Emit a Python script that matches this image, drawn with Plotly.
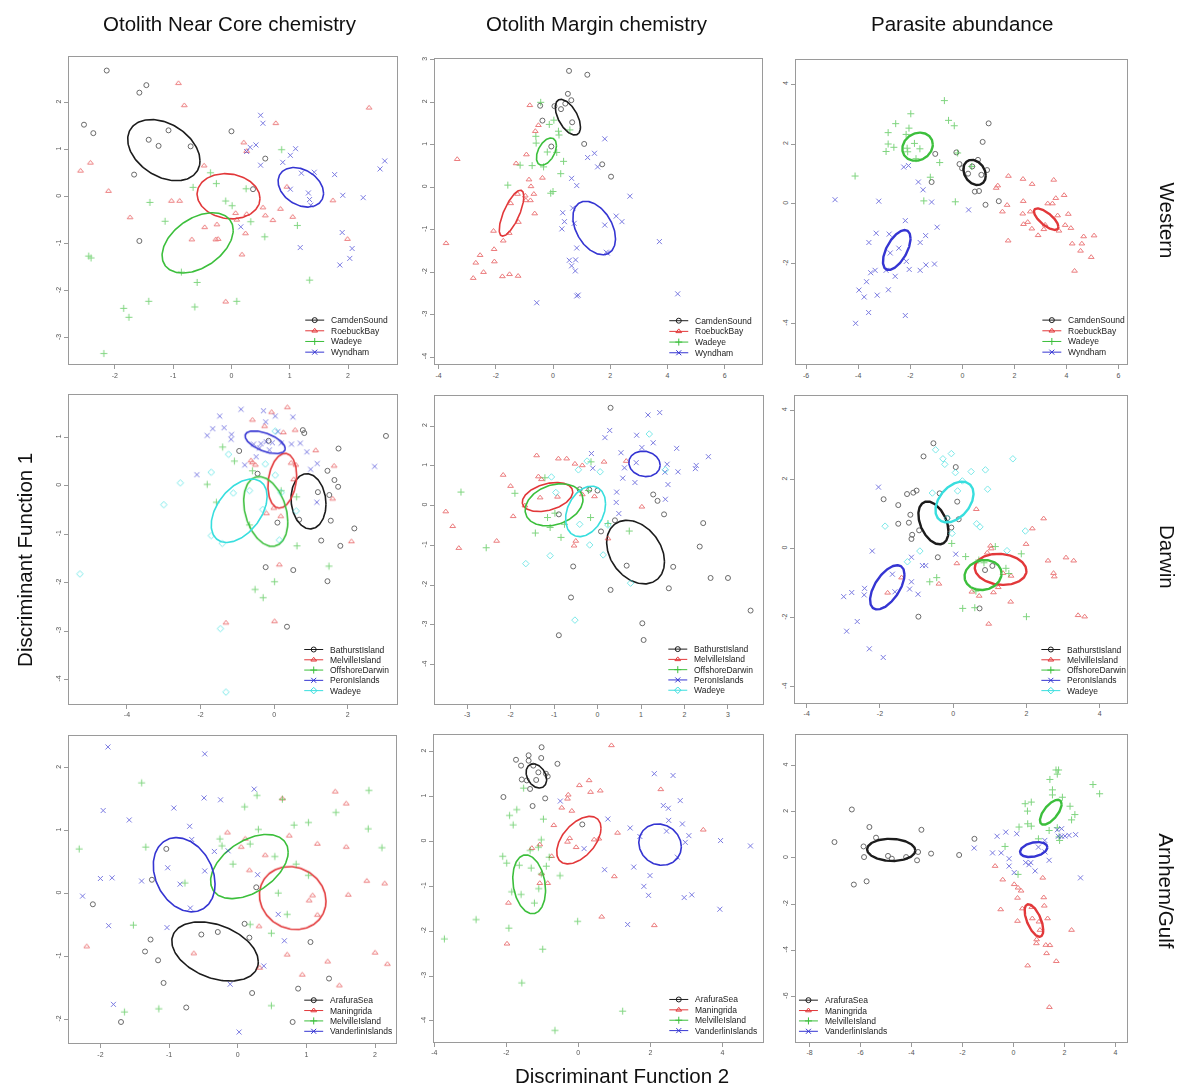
import numpy as np
import plotly.graph_objects as go

W, H = 1183, 1086

COLUMN_TITLES = ["Otolith Near Core chemistry", "Otolith Margin chemistry", "Parasite abundance"]
ROW_TITLES = ["Western", "Darwin", "Arnhem/Gulf"]
Y_TITLE = "Discriminant Function 1"
X_TITLE = "Discriminant Function 2"

# ---------------------------------------------------------------- Western
west_core = {
    "CamdenSound": ([-2.14, -1.46, -1.58, -2.53, -2.37, -1.08, -1.42, -1.25, -0.70, -1.67, 0.0, 0.58, 0.37, -1.58],
                    [2.68, 2.37, 2.21, 1.53, 1.35, 1.41, 1.21, 1.08, 1.07, 0.47, 1.39, 0.81, 0.16, -0.94]),
    "RoebuckBay": ([-0.91, -0.81, -2.59, -2.42, -2.11, -1.74, -1.03, -0.89, -0.47, 0.21, 0.76, 0.26, 2.36, -0.46, -0.25, -0.68,
                    -0.27, -0.23, 0.07, 0.09, 0.26, 0.24, 0.18, 0.54, 0.58, 0.71, 0.84, 1.05, 0.95, 1.74, 1.99, -0.10],
                   [2.41, 1.94, 0.55, 0.72, 0.12, -0.44, -0.09, -0.09, 0.66, 1.15, 1.56, 0.97, 1.89, -0.65, -0.59, -0.91,
                    -0.91, -0.90, -0.35, -0.49, -0.37, -0.78, -1.23, -0.23, -0.40, -0.50, -0.26, -0.43, 0.21, -0.08, -0.90, -2.23]),
    "Wadeye": ([-0.36, -0.66, -0.26, 0.25, -0.10, 0.01, -1.40, -1.14, 0.33, 0.57, 0.86, 1.13, -2.45, -2.41, -0.86, -0.59,
                -1.42, -1.85, -1.76, -0.63, 0.09, 1.34, -2.19],
               [0.51, 0.20, 0.28, 0.17, -0.09, -0.19, -0.12, -0.52, -0.53, -0.85, 1.00, -0.61, -1.26, -1.30, -1.60, -1.82,
                -2.22, -2.37, -2.56, -2.34, -2.22, -1.77, -3.33]),
    "Wyndham": ([0.50, 0.54, 0.42, 0.32, 0.26, 0.50, 0.88, 1.01, 1.10, 1.20, 1.42, 1.01, 1.32, 1.34, 1.36, 1.77, 1.91, 2.26,
                 2.55, 2.63, 0.16, 1.18, 1.90, 2.07, 2.03, 1.86],
                [1.73, 1.56, 1.10, 1.05, 0.96, 0.67, 0.73, 0.88, 1.02, 0.50, 0.52, 0.16, 0.08, -0.06, -0.18, 0.47, 0.03, -0.02,
                 0.59, 0.76, -0.64, -1.08, -0.76, -1.10, -1.31, -1.45]),
}
# ellipse: centre x, centre y, sd x, sd y, correlation
west_core_ell = {
    "CamdenSound": (-1.16, 0.99, 0.62, 0.65, -0.35),
    "RoebuckBay": (-0.05, 0.01, 0.54, 0.48, -0.10),
    "Wadeye": (-0.58, -0.98, 0.61, 0.64, 0.42),
    "Wyndham": (1.19, 0.20, 0.39, 0.42, -0.30),
}

west_margin = {
    "CamdenSound": ([0.56, 1.20, 0.52, 0.64, 0.43, 0.05, -0.45, 0.28, -0.37, 0.67, 1.09, -0.06, 1.72, 2.03],
                    [2.74, 2.65, 2.20, 2.05, 1.97, 1.91, 1.92, 1.84, 1.57, 1.53, 1.02, 0.96, 0.54, 0.25]),
    "RoebuckBay": ([-0.81, -0.51, -0.62, -3.35, -0.93, -1.29, -0.37, -0.84, -0.77, -0.67, -0.97, -0.95, -0.79, -1.24, -1.48,
                    -0.64, -1.21, -1.53, -2.08, -3.74, -1.74, -2.06, -2.05, -2.55, -2.70, -2.43, -2.79, -1.77, -1.52, -1.22],
                   [1.93, 1.46, 1.32, 0.66, 0.77, 0.56, 0.22, 0.18, 0.02, -0.16, -0.20, -0.31, -0.31, -0.16, -0.38,
                    -0.62, -0.82, -1.08, -1.03, -1.32, -1.26, -1.46, -1.75, -1.60, -1.78, -2.00, -2.14, -2.10, -2.05, -2.09]),
    "Wadeye": ([-0.43, -0.13, 0.03, 0.19, 0.59, -0.60, -0.59, -0.20, 0.13, -0.33, -0.73, -1.15, 0.37, 0.27, -1.58, 0.0, -0.08, 0.21],
               [2.00, 1.48, 1.58, 1.32, 1.35, 1.20, 1.04, 0.83, 0.82, 0.48, 0.51, 0.52, 0.61, 0.32, 0.05, -0.10, -0.14, 1.23]),
    "Wyndham": ([1.81, 1.45, 1.21, 1.56, 0.65, 0.83, 2.69, 0.69, 0.34, 0.40, 0.74, 0.31, 1.81, 2.21, 2.41, 0.83, 1.86, 1.90,
                 3.72, 0.57, 0.65, 0.79, 0.78, 0.88, 0.83, -0.57, 4.36],
                [1.14, 0.80, 0.70, 0.48, 0.21, 0.04, -0.21, -0.49, -0.60, -0.81, -0.85, -0.98, -0.89, -0.68, -0.81, -1.43, -1.53, -1.55,
                 -1.28, -1.72, -1.85, -1.71, -1.97, -2.54, -2.56, -2.72, -2.51]),
}
west_margin_ell = {
    "CamdenSound": (0.52, 1.65, 0.44, 0.42, -0.55),
    "RoebuckBay": (-1.45, -0.61, 0.43, 0.54, 0.72),
    "Wadeye": (-0.23, 0.84, 0.35, 0.32, 0.45),
    "Wyndham": (1.44, -0.96, 0.745, 0.63, -0.40),
}

west_parasite = {
    "CamdenSound": ([1.01, 0.78, -1.04, -0.23, -0.11, -0.01, 0.22, 0.60, 0.48, 0.64, 0.95, 0.73, -1.18, 1.40, 0.89, 0.38],
                    [2.69, 2.07, 1.67, 1.72, 1.33, 1.19, 1.01, 1.47, 0.41, 0.43, 1.13, 0.97, 0.73, 0.09, -0.03, 1.25]),
    "RoebuckBay": ([1.77, 1.36, 1.30, 1.54, 1.72, 2.33, 2.68, 3.51, 2.34, 3.28, 3.59, 3.91, 2.32, 2.35, 2.51, 2.61, 2.67,
                    2.91, 3.13, 3.18, 3.66, 3.71, 3.95, 4.07, 4.17, 4.22, 4.59, 4.66, 5.06, 4.54, 4.95, 4.31, 1.76, 3.46],
                   [0.93, 0.61, 0.53, -0.26, -0.04, 0.83, 0.66, 0.80, 0.09, 0.01, 0.19, 0.29, -0.33, -0.68, -0.61, -0.26, -0.83,
                    -1.05, -0.85, -0.70, -0.39, -0.90, -0.71, -0.34, -0.81, -1.33, -1.33, -1.09, -1.06, -1.57, -1.78, -2.24, -1.23, 0.01]),
    "Wadeye": ([-0.69, -1.98, -0.53, -0.31, -2.56, -2.05, -2.85, -2.85, -2.63, -2.93, -2.16, -1.84, -1.63, -2.10, -1.78,
                -2.12, -0.87, -1.23, -4.12, -1.48, -0.27, -0.18, 0.36],
               [3.45, 3.01, 2.79, 2.61, 2.68, 2.53, 2.38, 2.00, 1.89, 1.75, 2.32, 2.02, 1.84, 1.74, 1.51,
                1.86, 1.38, 0.89, 0.93, 0.10, 0.07, 1.70, 1.25]),
    "Wyndham": ([-4.89, -3.21, -2.25, -2.07, -1.69, -1.51, -1.18, 0.24, -2.19, -0.97, -3.31, -2.81, -1.41, -3.59, -1.62, -2.44,
                 -2.77, -2.15, -1.40, -1.07, -2.04, -1.62, -3.35, -3.52, -2.93, -2.58, -3.68, -3.97, -3.27, -3.77, -2.84,
                 -3.60, -2.19, -4.10],
                [0.14, 0.09, 1.23, 1.28, 0.73, 0.47, 0.06, -0.20, -0.56, -0.78, -0.98, -1.01, -1.06, -1.29, -1.29, -1.48,
                 -1.64, -1.92, -2.04, -2.01, -2.19, -2.22, -2.22, -2.30, -2.22, -2.42, -2.60, -2.88, -3.05, -3.11, -2.87,
                 -3.63, -3.73, -3.99]),
}
west_parasite_ell = {
    "CamdenSound": (0.47, 1.05, 0.43, 0.42, -0.25),
    "RoebuckBay": (3.22, -0.51, 0.47, 0.36, -0.72),
    "Wadeye": (-1.72, 1.91, 0.585, 0.47, 0.15),
    "Wyndham": (-2.52, -1.54, 0.53, 0.665, 0.58),
}

# ---------------------------------------------------------------- Darwin
darwin_core = {
    "BathurstIsland": ([0.78, 0.82, 3.04, 1.75, -0.95, 1.45, 1.64, 1.74, 1.19, 1.50, -0.45, 0.09, 0.68, 1.54, 2.18, 1.28,
                        1.80, -0.23, 0.52, 1.45, 0.35, -0.15],
                       [1.15, 1.09, 1.03, 0.77, 0.72, 0.31, 0.12, -0.02, -0.13, -0.19, 0.25, -0.76, -0.70, -0.72, -0.88, -1.13,
                        -1.24, -1.68, -1.74, -1.97, -2.91, 0.93]),
    "MelvilleIsland": ([0.36, -0.07, -0.59, -0.26, 0.57, 0.25, 1.13, -0.63, -0.59, -0.51, 0.46, 0.59, 1.63, 0.53, 1.59,
                        -0.21, 0.18, -0.01, 2.10, 0.14, -1.31, 0.01],
                       [1.62, 1.52, 1.36, 1.23, 1.15, 1.10, 0.73, 0.52, 0.48, 0.43, 0.47, 0.43, 0.41, 0.13, -0.27,
                        -0.57, -0.63, -0.46, -1.15, -1.63, -2.83, -2.80]),
    "OffshoreDarwin": ([-1.40, -1.08, -1.82, -1.57, -0.67, 0.61, 0.62, 1.49, 0.01, -0.52, -0.30, 0.19, -0.59],
                       [0.80, 0.51, 0.03, -0.34, -0.81, -0.23, -1.24, -1.66, -1.98, -2.14, -2.31, -0.10, 0.31]),
    "PeronIslands": ([-0.90, -1.48, -1.67, -1.36, -1.82, -1.16, -0.29, -0.23, 0.03, 0.51, 0.10, -0.36, -0.22, -0.05, -0.56,
                      -0.40, -0.13, 0.19, 0.47, 0.71, 0.89, 1.17, -1.17, -0.80, -0.49, -2.10, 0.99, 1.16, 2.73],
                     [1.58, 1.44, 1.18, 1.20, 1.04, 1.06, 1.55, 1.32, 1.44, 1.42, 1.12, 0.87, 0.91, 0.89, 0.86,
                      0.78, 0.74, 0.88, 0.86, 0.88, 0.70, 0.46, 0.96, 0.43, 0.60, 0.23, 0.34, -0.34, 0.40]),
    "Wadeye": ([-3.00, -2.55, -1.71, -1.24, -1.11, -0.67, -0.31, 0.03, -0.24, 0.19, 0.60, -1.71, -1.41, 0.14, -5.28, -1.46,
                -1.31, 0.03],
               [-0.39, 0.06, 0.28, 0.65, -0.15, -0.10, -0.49, 0.22, 0.45, -0.14, -0.52, -1.03, -1.19, -1.12, -1.82, -2.95,
                -4.26, 1.13]),
}
darwin_core_ell = {
    "BathurstIsland": (0.935, -0.32, 0.475, 0.57, -0.10),
    "MelvilleIsland": (0.22, 0.105, 0.39, 0.565, 0.20),
    "OffshoreDarwin": (-0.23, -0.53, 0.60, 0.72, -0.30),
    "PeronIslands": (-0.245, 0.90, 0.545, 0.235, -0.55),
    "Wadeye": (-0.95, -0.515, 0.76, 0.655, 0.45),
}

darwin_margin = {
    "BathurstIsland": ([0.30, -0.19, 0.0, 1.28, 1.38, 1.53, 0.40, 0.08, -0.89, 2.43, 2.35, -0.56, 0.67, 1.74, 2.60, 3.00,
                        0.30, 1.64, -0.61, 3.52, 1.03, 1.06, -0.89, -0.41],
                       [2.46, 0.40, 0.38, 0.28, 0.12, -0.22, -0.37, -0.65, -0.22, -0.44, -1.03, -1.53, -1.51, -1.54, -1.82, -1.82,
                        -2.12, -2.08, -2.31, -2.64, -2.96, -3.38, -3.26, 0.41]),
    "MelvilleIsland": ([-1.40, -0.90, -0.71, -0.52, -0.35, 0.15, 0.66, -2.17, -2.00, -1.36, -1.29, -1.32, -0.92, -0.35, -0.07,
                        -3.49, -3.33, -1.94, -3.19, -2.32, -0.54, -0.50, 0.24, 1.02, -1.67],
                       [1.26, 1.18, 1.18, 1.05, 1.01, 1.10, 1.12, 0.77, 0.49, 0.73, 0.66, 0.20, 0.22, 0.28, 0.23,
                        -0.15, -0.52, -0.27, -1.07, -0.89, -1.01, -0.89, -0.83, -0.03, 0.0]),
    "OffshoreDarwin": ([-3.14, -2.56, -1.90, -1.43, -1.15, -1.09, -0.84, -1.21, -0.98, -0.15, -0.16, 0.24, 0.73, -0.21, -0.76],
                       [0.34, -1.06, 0.31, -0.69, -0.30, -0.55, -0.80, 0.70, -0.19, 1.10, -0.30, -0.45, -0.64, 0.38, -0.47]),
    "PeronIslands": ([0.28, 0.17, 1.16, 1.43, 0.90, 1.28, 1.02, 0.54, 1.82, 2.55, -0.14, -0.11, 0.62, 0.89, 1.60, 1.85, 2.27,
                      2.25, 0.58, 0.86, 1.62, 1.55, 0.44, 0.43, 0.49, 1.56],
                     [1.89, 1.71, 2.28, 2.34, 1.77, 1.58, 1.46, 1.33, 1.44, 1.23, 1.31, 0.94, 0.95, 1.08, 1.04, 0.85, 1.01,
                      0.93, 0.69, 0.58, 0.53, 0.84, 0.34, 0.08, -0.20, 0.16]),
    "Wadeye": ([1.19, -0.44, -0.24, 0.06, -1.06, 1.56, -0.96, -0.41, -0.18, 0.24, 0.13, -1.09, -1.65, -0.52, 0.76],
               [1.80, 0.90, 1.12, 0.85, 0.72, 0.90, 0.33, -0.47, -0.99, -0.49, -1.24, -1.26, -1.46, -2.88, -1.95]),
}
darwin_margin_ell = {
    "BathurstIsland": (0.875, -1.17, 0.665, 0.80, -0.30),
    "MelvilleIsland": (-1.15, 0.215, 0.58, 0.365, 0.35),
    "OffshoreDarwin": (-1.00, 0.02, 0.665, 0.53, 0.25),
    "PeronIslands": (1.08, 1.05, 0.36, 0.32, -0.10),
    "Wadeye": (-0.275, -0.145, 0.46, 0.635, 0.30),
}

darwin_parasite = {
    "BathurstIsland": ([-0.54, -0.81, 0.07, -1.90, -1.50, -1.26, -1.09, -1.00, -1.17, -1.21, -1.50, -1.12, -1.14, -0.93,
                        0.11, -0.16, -0.05, -0.42, 0.15, -0.95, 0.87, 1.07, 0.72, -0.37],
                       [3.05, 2.67, 2.36, 1.43, 1.26, 1.58, 1.62, 1.68, 0.98, 0.75, 0.72, 0.40, 0.28, 0.53,
                        1.36, 0.88, 0.61, -0.25, 0.85, -1.97, -0.62, -0.50, -1.73, 1.60]),
    "MelvilleIsland": ([0.63, 2.47, 2.16, 1.99, 1.02, 1.04, 0.93, 0.10, -0.39, -1.41, -1.79, 0.51, 0.71, 1.10, 1.23, 1.58,
                        1.36, 1.57, 0.97, 2.59, 2.74, 2.76, 3.08, 3.29, 3.41, 3.59],
                       [1.14, 0.87, 0.58, 0.13, 0.08, 0.0, -0.12, -0.43, -1.02, -0.84, -1.28, -1.25, -1.37, -1.27, -1.12, -0.79,
                        -0.71, -1.54, -2.18, -0.35, -0.71, -0.81, -0.26, -0.35, -1.93, -1.97]),
    "OffshoreDarwin": ([-0.04, 0.34, 1.15, 1.86, 1.44, 0.84, 0.70, -0.45, -0.64, 0.26, 0.59, 0.62, 2.00, 1.52],
                       [0.15, -0.23, 0.06, -0.15, -0.57, -0.41, -0.33, -0.84, -0.96, -1.73, -1.71, -1.23, -1.97, -0.72]),
    "PeronIslands": ([-2.04, -2.21, -1.14, 0.07, -0.84, -1.66, -1.14, -1.19, -2.42, -2.77, -2.43, -2.99, -1.59, -0.96,
                      -2.62, -2.91, -2.29, -1.91, -0.75],
                     [1.78, -0.07, -0.25, -0.16, -0.49, -0.74, -0.96, -1.17, -1.15, -1.27, -1.34, -1.39, -1.25, -1.32,
                      -2.11, -2.39, -2.90, -3.15, -0.49]),
    "Wadeye": ([-0.48, -0.05, -0.28, -0.23, 0.06, 0.49, 0.88, 1.63, 0.94, 0.12, -0.57, 0.25, -1.86, 0.64, 0.73, 1.47, 1.97,
                -0.91, -1.25, -0.16, -0.03],
               [2.86, 2.75, 2.60, 2.44, 2.20, 2.23, 2.28, 2.60, 1.72, 1.67, 1.61, 1.96, 0.65, 0.72, 0.63, -0.06, 0.51,
                -0.07, -0.38, 0.88, 0.44]),
}
darwin_parasite_ell = {
    "BathurstIsland": (-0.54, 0.745, 0.41, 0.62, -0.40),
    "MelvilleIsland": (1.295, -0.60, 0.705, 0.45, -0.10),
    "OffshoreDarwin": (0.815, -0.765, 0.505, 0.435, 0.10),
    "PeronIslands": (-1.80, -1.12, 0.47, 0.64, 0.58),
    "Wadeye": (0.035, 1.35, 0.52, 0.59, 0.40),
}

# ---------------------------------------------------------------- Arnhem / Gulf
arnhem_core = {
    "ArafuraSea": ([-2.11, -1.04, -1.25, 0.27, 0.10, 0.17, -0.29, -0.53, -1.27, -1.35, -1.16, -1.08, -0.75, -1.70, 0.21,
                    0.88, 1.33, 1.06, 0.80],
                   [-0.17, 0.71, 0.22, 0.10, -0.48, -0.70, -0.61, -0.65, -0.73, -0.92, -1.06, -1.42, -1.81, -2.04, -1.58,
                    -1.51, -1.35, -0.77, -2.04]),
    "Maningrida": ([1.42, 1.58, -0.15, 0.05, 0.11, 0.75, 1.16, 1.58, 0.40, 0.17, 1.04, 1.09, 1.61, 1.16, 1.88, 2.14, 0.31,
                    0.72, -0.64, 0.32, 0.94, 1.31, 1.48, 2.00, 2.18, -2.20, 0.65],
                   [1.62, 1.43, 0.97, 0.74, 0.87, 0.92, 0.79, 0.74, 0.61, 0.37, -0.11, -0.03, -0.02, -0.34, 0.20, 0.16, -0.52,
                    -0.97, -0.95, -1.18, -1.29, -1.08, -1.46, -0.94, -1.12, -0.84, 1.51]),
    "MelvilleIsland": ([-1.40, 0.28, 0.10, 0.65, 1.91, 1.43, 1.03, 0.82, 1.90, 0.30, -0.26, -0.23, 0.18, 0.54, 0.85, -0.07,
                        2.10, -2.31, -1.34, -0.77, 1.03, 0.59, 0.72, 0.18, -1.52, 0.49, 0.49, -1.15, -1.65],
                       [1.76, 1.56, 1.38, 1.50, 1.64, 1.29, 1.13, 1.09, 1.03, 1.02, 0.87, 0.76, 0.79, 0.59, 0.47, 0.47,
                        0.73, 0.71, 0.74, 0.17, 0.29, 0.01, -0.33, -0.49, -0.50, -0.63, -1.78, -1.83, -1.88]),
    "VanderlinIslands": ([-1.89, -0.48, -1.58, -1.96, -0.93, -0.49, -0.25, 0.24, -0.70, -0.67, -0.34, -0.14, -1.02, -0.48,
                          -0.84, -2.00, -1.83, -1.40, -2.26, -0.69, 0.29, 0.59, -1.88, -1.03, 0.68, 0.38, -0.11, -1.81, 0.02],
                         [2.33, 2.22, 1.17, 1.32, 1.36, 1.52, 1.49, 1.66, 1.07, 0.86, 0.67, 0.68, 0.41, 0.36,
                          0.15, 0.24, 0.25, 0.20, -0.04, -0.23, 0.30, -0.33, -0.51, -0.54, -0.75, -1.15, -1.44, -1.76, -2.20]),
}
arnhem_core_ell = {
    "ArafuraSea": (-0.33, -0.92, 0.63, 0.47, -0.35),
    "Maningrida": (0.80, -0.07, 0.485, 0.50, -0.10),
    "MelvilleIsland": (0.17, 0.43, 0.565, 0.51, 0.45),
    "VanderlinIslands": (-0.78, 0.30, 0.45, 0.59, -0.25),
}

arnhem_margin = {
    "ArafuraSea": ([-1.02, -0.58, -1.38, -1.38, -1.73, -1.03, -1.59, -1.25, -1.11, -1.57, -1.43, -1.17, -1.34, -0.90, -0.85,
                    -2.08, -0.92, -1.27, 0.11],
                   [2.10, 1.73, 1.92, 1.80, 1.82, 1.86, 1.69, 1.69, 1.54, 1.38, 1.36, 1.37, 1.17, 1.51, 1.45,
                    0.99, 0.96, 0.79, 0.38]),
    "Maningrida": ([0.92, 0.03, 0.30, 0.34, 0.61, 2.29, -0.28, -0.30, -0.46, -0.18, -0.68, -0.24, -0.30, -0.06, 0.44, 0.57,
                    1.09, 3.47, -1.29, -1.07, -0.74, -1.02, -1.07, -0.85, 1.00, -1.94, 0.65, 2.11, -1.98],
                   [2.14, 1.25, 1.36, 1.10, 1.13, 1.16, 1.04, 0.95, 0.75, 0.68, 0.36, 0.07, -0.01, -0.13, 0.04, 0.06,
                    0.19, 0.26, -0.15, -0.07, -0.33, -0.72, -0.93, -0.93, -0.78, -1.37, -1.68, -1.87, -2.28]),
    "MelvilleIsland": ([-1.52, -1.71, -1.91, -1.81, -0.97, -1.03, -1.11, -1.34, -2.10, -1.99, -1.64, -1.31, -0.89, -0.81,
                        -0.51, -1.03, -1.10, -1.85, -1.59, -1.22, -2.84, -1.93, -3.72, -0.02, -0.99, -1.57, 1.23, -0.65],
                       [1.19, 0.71, 0.58, 0.37, 0.50, 0.04, -0.13, -0.20, -0.33, -0.48, -0.53, -0.59, -0.55, -0.35,
                        -0.76, -0.72, -1.05, -1.12, -1.18, -1.37, -1.74, -1.93, -2.17, -1.78, -2.40, -3.15, -3.78, -4.21]),
    "VanderlinIslands": ([2.11, 2.63, 2.83, 2.36, 2.50, -0.50, 0.82, 2.51, 2.89, 1.44, 2.45, 3.07, 1.71, 2.97, 3.95, 4.78,
                          0.16, 0.73, 1.54, 1.99, 1.82, 1.95, 2.94, 3.15, 3.93, 1.37, 2.75],
                         [1.51, 1.47, 0.91, 0.80, 0.74, 0.90, 0.50, 0.47, 0.39, 0.30, 0.23, 0.13, 0.11, -0.02, 0.02, -0.10,
                          -0.16, -0.63, -0.57, -0.76, -1.00, -1.20, -1.25, -1.19, -1.51, -1.85, -0.35]),
}
arnhem_margin_ell = {
    "ArafuraSea": (-1.165, 1.46, 0.285, 0.27, -0.30),
    "Maningrida": (0.015, 0.03, 0.615, 0.53, 0.50),
    "MelvilleIsland": (-1.365, -0.955, 0.455, 0.655, -0.20),
    "VanderlinIslands": (2.27, -0.07, 0.59, 0.46, -0.10),
}

arnhem_parasite = {
    "ArafuraSea": ([-6.34, -7.02, -5.65, -5.39, -5.88, -5.86, -4.92, -4.77, -3.61, -3.74, -3.78, -3.23, -2.13, -1.53, -6.26,
                    -5.76, -4.21],
                   [2.10, 0.69, 1.34, 0.88, 0.50, 0.04, 0.09, -0.03, 1.22, 0.26, -0.10, 0.19, 0.13, 0.83, -1.15,
                    -1.01, 0.04]),
    "Maningrida": ([-0.72, -0.42, 0.03, 0.18, 0.30, 0.16, 1.15, -0.50, 0.35, 0.72, 1.19, 1.21, 0.16, 0.74, 1.34, 1.00, 1.04,
                    2.28, 0.91, 0.90, 1.27, 1.43, 1.30, 1.68, 0.56, 1.41],
                   [-0.35, -0.94, -1.14, -1.29, -1.42, -1.73, -0.86, -2.23, -2.19, -2.13, -1.71, -2.07, -2.73, -2.62, -2.62,
                    -2.76, -3.12, -3.12, -3.53, -3.70, -3.77, -3.78, -4.13, -4.47, -4.66, -6.46]),
    "MelvilleIsland": ([1.67, 1.77, 1.72, 1.43, 1.53, 1.53, 1.92, 3.12, 3.38, 0.46, 0.70, 0.55, 2.22, 2.41, 2.28, 0.56, 0.70,
                        0.22, 1.40, 1.72, 1.79, 1.81, 0.98, -0.33, 0.18],
                       [3.81, 3.81, 3.63, 3.40, 2.95, 2.73, 2.63, 3.18, 2.78, 2.35, 2.42, 2.03, 2.24, 1.88, 1.65, 1.48, 1.38,
                        1.34, 1.19, 1.31, 0.91, 0.76, 0.83, 0.50, -0.71]),
    "VanderlinIslands": ([-0.30, 0.13, -0.64, 1.89, 1.72, 1.76, 1.89, 2.02, 2.18, 2.44, -1.54, -0.82, -0.48, 0.98, 1.23, 1.24,
                          -0.17, -0.17, 0.03, 0.48, 0.61, 0.68, 0.85, 1.40, 2.63],
                         [1.12, 1.05, 0.94, 1.27, 1.22, 0.94, 0.94, 0.95, 0.98, 1.01, 0.43, 0.22, 0.22, 0.47, 0.76, 0.26,
                          -0.03, -0.35, -0.63, -0.20, -0.29, -0.20, -0.56, -0.10, -0.86]),
}
arnhem_parasite_ell = {
    "ArafuraSea": (-4.795, 0.35, 0.945, 0.48, -0.05),
    "Maningrida": (0.805, -2.705, 0.365, 0.705, -0.60),
    "MelvilleIsland": (1.465, 1.98, 0.425, 0.54, 0.65),
    "VanderlinIslands": (0.795, 0.365, 0.535, 0.325, 0.30),
}

# ---------------------------------------------------------------- styling
COLORS = ["#1c1c1c", "#e2383a", "#3cbf3c", "#3535d2", "#38dede"]
SYMBOLS = ["circle-open", "triangle-up-open", "cross-thin", "x-thin", "diamond-open"]
FONT = "Liberation Sans, Arial, Helvetica, sans-serif"

# panel box in page pixels (left, top, right, bottom), axis ranges, ticks, legend anchor
PANELS = [
    dict(pts=west_core, ell=west_core_ell, box=(66, 55, 395, 363), xr=(-2.79, 2.84), yr=(-3.56, 2.97),
         xt=[-2, -1, 0, 1, 2], yt=[-3, -2, -1, 0, 1, 2], leg=(327, 318.7, 10.7), lw=1.6),
    dict(pts=west_margin, ell=west_margin_ell, box=(433, 56.7, 760.7, 363), xr=(-4.13, 7.30), yr=(-4.17, 3.03),
         xt=[-4, -2, 0, 2, 4, 6], yt=[-4, -3, -2, -1, 0, 1, 2, 3], leg=(692, 319.3, 10.7), lw=1.6),
    dict(pts=west_parasite, ell=west_parasite_ell, box=(795, 58, 1127, 363), xr=(-6.39, 6.33), yr=(-5.36, 4.81),
         xt=[-6, -4, -2, 0, 2, 4, 6], yt=[-4, -2, 0, 2, 4], leg=(1066, 318.7, 10.7), lw=2.4),
    dict(pts=darwin_core, ell=darwin_core_ell, box=(66, 394, 395, 703), xr=(-5.58, 3.34), yr=(-4.50, 1.87),
         xt=[-4, -2, 0, 2], yt=[-4, -3, -2, -1, 0, 1], leg=(326, 648.7, 10.3), lw=1.6),
    dict(pts=darwin_margin, ell=darwin_margin_ell, box=(433, 395, 761.7, 703.3), xr=(-3.74, 3.80), yr=(-4.99, 2.75),
         xt=[-3, -2, -1, 0, 1, 2, 3], yt=[-4, -3, -2, -1, 0, 1, 2], leg=(691, 648.3, 10.3), lw=1.6),
    dict(pts=darwin_parasite, ell=darwin_parasite_ell, box=(794, 395, 1127, 702), xr=(-4.32, 4.75), yr=(-4.46, 4.41),
         xt=[-4, -2, 0, 2, 4], yt=[-4, -2, 0, 2, 4], leg=(1065, 648.7, 10.3), lw=2.4),
    dict(pts=arnhem_core, ell=arnhem_core_ell, box=(66, 735, 394.3, 1043.3), xr=(-2.46, 2.31), yr=(-2.38, 2.51),
         xt=[-2, -1, 0, 1, 2], yt=[-2, -1, 0, 1, 2], leg=(326, 1000, 10.4), lw=1.6),
    dict(pts=arnhem_margin, ell=arnhem_margin_ell, box=(432, 734, 762, 1042), xr=(-4.01, 5.13), yr=(-4.47, 2.38),
         xt=[-4, -2, 0, 2, 4], yt=[-4, -3, -2, -1, 0, 1, 2], leg=(692, 999.3, 10.4), lw=1.6),
    dict(pts=arnhem_parasite, ell=arnhem_parasite_ell, box=(795, 734, 1127, 1042), xr=(-8.53, 4.46), yr=(-7.97, 5.34),
         xt=[-8, -6, -4, -2, 0, 2, 4], yt=[-6, -4, -2, 0, 2, 4], leg=(822, 1000, 10.4), lw=2.4),
]


def ellipse_path(cx, cy, sx, sy, r, n=160):
    t = np.linspace(0, 2 * np.pi, n)
    x = cx + sx * np.cos(t)
    y = cy + sy * (r * np.cos(t) + np.sqrt(1 - r * r) * np.sin(t))
    return x, y


fig = go.Figure()
layout = dict(
    width=W, height=H, margin=dict(l=0, r=0, t=0, b=0),
    paper_bgcolor="white", plot_bgcolor="rgba(0,0,0,0)",
    showlegend=False, font=dict(family=FONT, color="#222"),
)

annotations = []
shapes = []
overlay_pts = {}

for i, p in enumerate(PANELS, start=1):
    sfx = "" if i == 1 else str(i)
    l, t, r, b = p["box"]
    axis_common = dict(
        showgrid=False, zeroline=False, showline=True, mirror=True,
        linecolor="#9a9a9a", linewidth=1, ticks="outside", ticklen=4, tickcolor="#9a9a9a",
        tickfont=dict(size=7, color="#555", family=FONT), fixedrange=True,
    )
    layout["xaxis" + sfx] = dict(
        domain=[l / W, r / W], range=list(p["xr"]), anchor="y" + sfx,
        tickvals=p["xt"], ticktext=[str(v) for v in p["xt"]], **axis_common)
    layout["yaxis" + sfx] = dict(
        domain=[1 - b / H, 1 - t / H], range=list(p["yr"]), anchor="x" + sfx,
        tickvals=p["yt"], ticktext=[str(v) for v in p["yt"]], tickangle=-90, **axis_common)

    lx, ly, dy = p["leg"]
    for j, (site, (xs, ys)) in enumerate(p["pts"].items()):
        col = COLORS[j]
        sym = SYMBOLS[j]
        fig.add_trace(go.Scatter(
            x=xs, y=ys, mode="markers", xaxis="x" + sfx, yaxis="y" + sfx,
            marker=dict(symbol=sym, size=5, color=col, line=dict(width=1, color=col)),
            opacity=0.65, hoverinfo="skip", cliponaxis=True,
        ))
        ex, ey = ellipse_path(*p["ell"][site])
        fig.add_trace(go.Scatter(
            x=ex, y=ey, mode="lines", xaxis="x" + sfx, yaxis="y" + sfx,
            line=dict(color=col, width=p["lw"]), hoverinfo="skip",
        ))
        # legend entry: short line with symbol, then site name
        yy = ly + j * dy
        shapes.append(dict(type="line", xref="x10", yref="y10", x0=lx - 24, x1=lx - 5, y0=yy, y1=yy,
                           line=dict(color=col, width=1)))
        overlay_pts.setdefault(j, ([], []))
        overlay_pts[j][0].append(lx - 14.5)
        overlay_pts[j][1].append(yy)
        annotations.append(dict(xref="x10", yref="y10", x=lx, y=yy, text=site, showarrow=False,
                                xanchor="left", yanchor="middle",
                                font=dict(size=8.5, color="#222", family=FONT)))

# page-pixel overlay used for legend symbols
layout["xaxis10"] = dict(domain=[0, 1], range=[0, W], visible=False, anchor="y10", fixedrange=True)
layout["yaxis10"] = dict(domain=[0, 1], range=[H, 0], visible=False, anchor="x10", fixedrange=True)
for j, (xs, ys) in overlay_pts.items():
    fig.add_trace(go.Scatter(
        x=xs, y=ys, mode="markers", xaxis="x10", yaxis="y10",
        marker=dict(symbol=SYMBOLS[j], size=5, color=COLORS[j], line=dict(width=1, color=COLORS[j])),
        hoverinfo="skip", cliponaxis=False,
    ))

title_font = dict(size=20.5, color="#111", family=FONT)
for k, (txt, xc) in enumerate(zip(COLUMN_TITLES, [228, 596, 961])):
    annotations.append(dict(xref="paper", yref="paper", x=xc / W, y=1 - 22 / H, text=txt, showarrow=False,
                            xanchor="center", yanchor="middle", font=title_font))
for txt, yc in zip(ROW_TITLES, [219, 556, 890]):
    annotations.append(dict(xref="paper", yref="paper", x=1167 / W, y=1 - yc / H, text=txt, showarrow=False,
                            xanchor="center", yanchor="middle", textangle=90, font=title_font))
annotations.append(dict(xref="paper", yref="paper", x=22 / W, y=1 - 559 / H, text=Y_TITLE, showarrow=False,
                        xanchor="center", yanchor="middle", textangle=-90, font=title_font))
annotations.append(dict(xref="paper", yref="paper", x=621 / W, y=1 - 1075 / H, text=X_TITLE, showarrow=False,
                        xanchor="center", yanchor="middle", font=title_font))

layout["annotations"] = annotations
layout["shapes"] = shapes
fig.update_layout(**layout)
fig.write_html("out.html")
